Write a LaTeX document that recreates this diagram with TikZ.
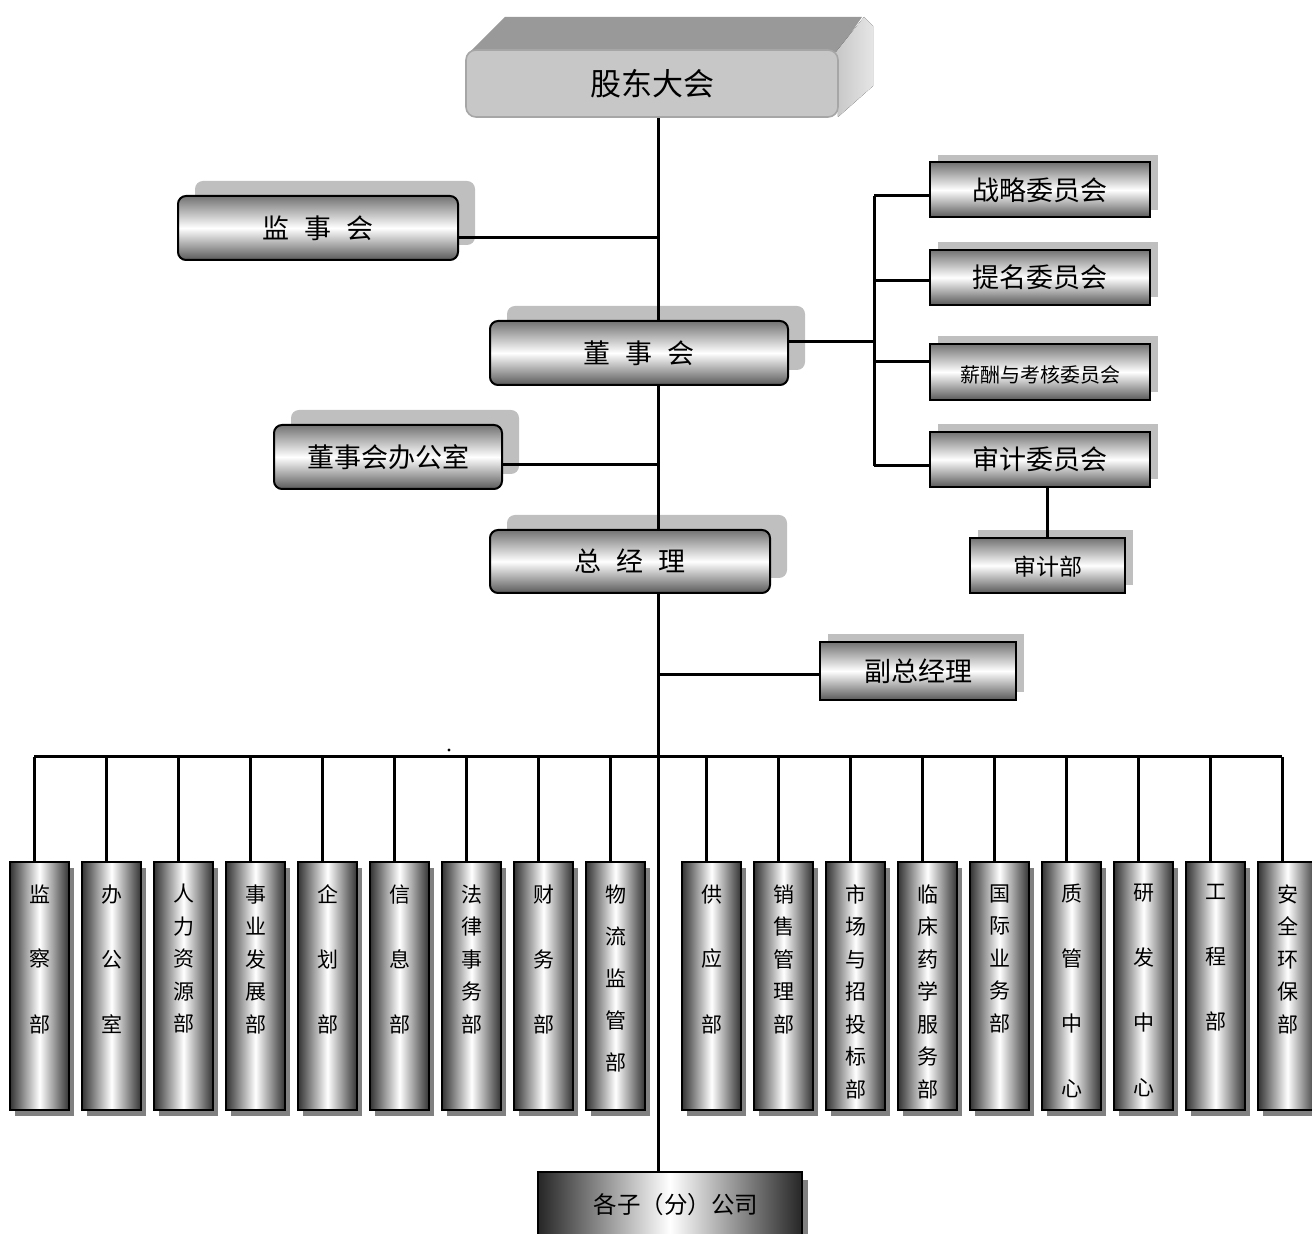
\documentclass[tikz,border=0pt]{standalone}
\usepackage{fontspec}
\newfontfamily\cjk{Noto Sans CJK SC}
\usepackage{tikz}
\usetikzlibrary{shadows,positioning}
\newcommand\chargap{\hspace{0.55em}}
\tikzset{
  conn/.style={line width=1.5pt},
  roundbox/.style={draw, line width=1pt, rounded corners=4pt, inner sep=0pt,
    top color=black!55, bottom color=black!65, middle color=white,
    font=\cjk\fontsize{13.5}{16}\selectfont, text height=1.05em, text depth=0pt,
    copy shadow={shadow xshift=8.5pt, shadow yshift=7.5pt, fill=black!25, draw=none}},
  sqbox/.style={draw, line width=1pt, inner sep=0pt,
    top color=black!55, bottom color=black!65, middle color=white,
    minimum width=110pt, minimum height=27.5pt,
    font=\cjk\fontsize{13.5}{16}\selectfont, text height=1.05em, text depth=0pt,
    copy shadow={shadow xshift=4pt, shadow yshift=3.75pt, fill=black!25, draw=none}},
  deptbox/.style={draw, line width=1pt, inner sep=0pt,
    left color=black!80, right color=black!80, middle color=white,
    minimum width=29.5pt, minimum height=124pt,
    copy shadow={shadow xshift=2.5pt, shadow yshift=-3pt, fill=black!50, draw=none}},
  depttext/.style={align=center, inner sep=0pt, anchor=north},
}
\begin{document}
\begin{tikzpicture}[x=0.5pt,y=-0.5pt]
  \useasboundingbox (0,0) rectangle (1312,1234);
  % shareholders meeting, drawn as a block
  \fill[black!40] (470,52) -- (505,17) -- (862,17) -- (838,52) -- cycle;
  \fill[left color=black!22, right color=black!10] (836,52) -- (864,17) -- (873,26) -- (873,86) -- (838,117) -- cycle;
  \node[draw=black!35, line width=0.8pt, fill=black!22, rounded corners=5pt,
    minimum width=186pt, minimum height=33.5pt,
    font=\cjk\fontsize{15.5}{18}\selectfont] (gd) at (652,83.5) {股东大会};

  \node[roundbox, minimum width=140pt, minimum height=32pt] (jsh) at (318,228) {监\chargap 事\chargap 会};
  \node[roundbox, minimum width=149pt, minimum height=32pt] (dsh) at (639,353) {董\chargap 事\chargap 会};
  \node[roundbox, minimum width=114pt, minimum height=32pt] (bgs) at (388,457) {董事会办公室};
  \node[roundbox, minimum width=140pt, minimum height=31.5pt] (zjl) at (630,561.5) {总\chargap 经\chargap 理};

  % committees
  \node[sqbox] (zl) at (1040,190) {战略委员会};
  \node[sqbox] (tm) at (1040,277.5) {提名委员会};
  \node[sqbox, minimum height=28pt, font=\cjk\fontsize{10}{12}\selectfont] (xc) at (1040,372) {薪酬与考核委员会};
  \node[sqbox] (sj) at (1040,459.5) {审计委员会};
  \node[sqbox, minimum width=77.5pt, font=\cjk\fontsize{11.5}{14}\selectfont] (sjb) at (1047.5,565.5) {审计部};
  \node[sqbox, minimum width=98pt, minimum height=29pt] (fz) at (918,671) {副总经理};

  \node[draw, line width=1pt, inner sep=0pt, left color=black!85, right color=black!85, middle color=white,
    minimum width=132pt, minimum height=33pt, font=\cjk\fontsize{11.75}{14}\selectfont,
    copy shadow={shadow xshift=3pt, shadow yshift=-4pt, fill=black!50, draw=none}] (fgs) at (670,1205) {\hspace{6pt}各子（分）公司};

  % main line
  \coordinate (mx) at (658,0);
  \draw[conn] (gd.south -| mx) -- (dsh.north -| mx);
  \draw[conn] (dsh.south -| mx) -- (zjl.north -| mx);
  \draw[conn] (zjl.south -| mx) -- (fgs.north -| mx);
  \coordinate (m1) at (658,238);
  \coordinate (m2) at (658,465);
  \coordinate (m3) at (658,675);
  \draw[conn] (m1) -- (m1 -| jsh.east);
  \draw[conn] (m2) -- (m2 -| bgs.east);
  \draw[conn] (m3) -- (m3 -| fz.west);

  % committee bracket
  \coordinate (r0) at (874,342);
  \coordinate (r1) at (874,196);
  \coordinate (r2) at (874,281);
  \coordinate (r3) at (874,362);
  \coordinate (r4) at (874,466);
  \draw[conn] (dsh.east |- r0) -- (r0);
  \draw[conn] (r1) -- (r4);
  \foreach \r/\b in {r1/zl, r2/tm, r3/xc, r4/sj}
    \draw[conn] (\r) -- (\r -| \b.west);
  \draw[conn] (sj.south -| sjb.north) -- (sjb.north);

  % departments
  \coordinate (bl) at (34,757);
  \coordinate (br) at (1282,757);
  \draw[conn] (bl) -- (br);
  \fill (449,750) circle (0.8pt);
  \foreach \i/\cx/\sk/\txt in {
    1/34/32.5/{监\\察\\部},
    2/106/32.5/{办\\公\\室},
    3/178/16.25/{人\\力\\资\\源\\部},
    4/250/16.25/{事\\业\\发\\展\\部},
    5/322/32.5/{企\\划\\部},
    6/394/32.5/{信\\息\\部},
    7/466/16.25/{法\\律\\事\\务\\部},
    8/538/32.5/{财\\务\\部},
    9/610/21/{物\\流\\监\\管\\部},
    10/706/32.5/{供\\应\\部},
    11/778/16.25/{销\\售\\管\\理\\部},
    12/850/16.25/{市\\场\\与\\招\\投\\标\\部},
    13/922/16.25/{临\\床\\药\\学\\服\\务\\部},
    14/994/16.25/{国\\际\\业\\务\\部},
    15/1066/32.5/{质\\管\\中\\心},
    16/1138/32.5/{研\\发\\中\\心},
    17/1210/32.5/{工\\程\\部},
    18/1282/16.25/{安\\全\\环\\保\\部}}{
    \node[deptbox] (d\i) at (\cx+5.5,986) {};
    \coordinate (b\i) at (\cx,757);
    \draw[conn] (b\i) -- (b\i |- d\i.north);
    \node[depttext, font=\cjk\fontsize{10.5}{\sk}\selectfont] (t\i) at ([yshift=-11.5pt]d\i.north) {\txt};
  }
\end{tikzpicture}
\end{document}
